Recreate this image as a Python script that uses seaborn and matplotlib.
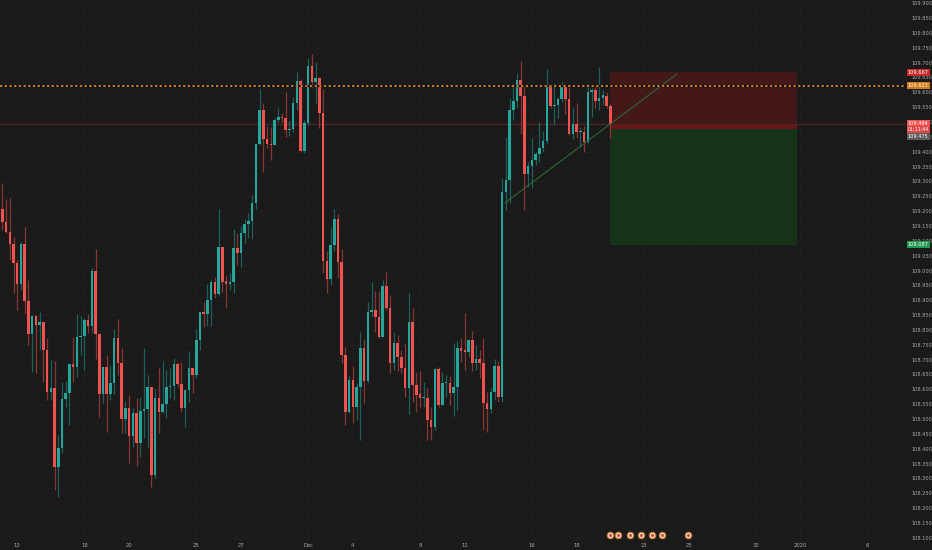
import numpy as np
import pandas as pd
import matplotlib
matplotlib.use('Agg')
import matplotlib.pyplot as plt
import matplotlib.transforms as mtransforms
import seaborn as sns

# ---------------------------------------------------------------
# USDJPY 4H candles
opens = [109.207, 109.164, 109.130, 109.089, 109.025, 108.955, 109.089, 108.898, 108.786, 108.847,
         108.817, 108.827, 108.733, 108.591, 108.605, 108.339, 108.403, 108.568, 108.588, 108.685,
         108.675, 108.776, 108.778, 108.834, 108.813, 108.999, 108.786, 108.584, 108.675, 108.584,
         108.621, 108.773, 108.689, 108.500, 108.537, 108.443, 108.520, 108.419, 108.527, 108.534,
         108.608, 108.312, 108.571, 108.524, 108.551, 108.608, 108.611, 108.685, 108.618, 108.537,
         108.598, 108.672, 108.648, 108.766, 108.861, 108.854, 108.901, 108.962, 108.921, 109.079,
         108.965, 108.955, 108.962, 109.076, 109.059, 109.127, 109.157, 109.167, 109.228, 109.426,
         109.541, 109.443, 109.426, 109.423, 109.507, 109.517, 109.514, 109.473, 109.477, 109.564,
         109.638, 109.403, 109.497, 109.689, 109.635, 109.648, 109.530, 109.032, 108.972, 109.086,
         109.174, 109.029, 108.716, 108.524, 108.632, 108.541, 108.608, 108.739, 108.628, 108.861,
         108.867, 108.844, 108.776, 108.948, 108.874, 108.689, 108.756, 108.709, 108.672, 108.605,
         108.827, 108.615, 108.584, 108.571, 108.571, 108.497, 108.473, 108.669, 108.547, 108.621,
         108.621, 108.588, 108.608, 108.739, 108.733, 108.726, 108.766, 108.689, 108.702, 108.689,
         108.554, 108.534, 108.591, 108.679, 108.574, 109.265, 109.305, 109.541, 109.571, 109.642,
         109.588, 109.325, 109.352, 109.372, 109.393, 109.413, 109.436, 109.618, 109.554, 109.557,
         109.578, 109.618, 109.578, 109.460, 109.493, 109.467, 109.467, 109.433, 109.601, 109.608,
         109.571, 109.581, 109.588, 109.554]
highs = [109.295, 109.241, 109.244, 109.113, 109.036, 109.096, 109.147, 108.968, 108.850, 108.850,
         108.861, 108.827, 108.773, 108.699, 108.696, 108.446, 108.625, 108.628, 108.689, 108.776,
         108.854, 108.847, 108.840, 108.854, 109.009, 109.073, 108.786, 108.675, 108.716, 108.682,
         108.803, 108.837, 108.739, 108.561, 108.581, 108.537, 108.571, 108.574, 108.739, 108.648,
         108.608, 108.601, 108.672, 108.696, 108.665, 108.672, 108.706, 108.689, 108.692, 108.598,
         108.729, 108.672, 108.803, 108.861, 108.894, 108.955, 108.968, 108.978, 109.207, 109.079,
         108.985, 108.992, 109.140, 109.127, 109.150, 109.174, 109.194, 109.254, 109.426, 109.611,
         109.564, 109.487, 109.483, 109.514, 109.547, 109.530, 109.601, 109.504, 109.584, 109.669,
         109.645, 109.507, 109.716, 109.729, 109.702, 109.652, 109.611, 109.066, 109.147, 109.207,
         109.190, 109.073, 108.743, 108.645, 108.679, 108.621, 108.793, 108.770, 108.894, 108.962,
         108.931, 108.931, 108.968, 108.995, 108.918, 108.793, 108.783, 108.733, 108.756, 108.924,
         108.874, 108.659, 108.662, 108.625, 108.605, 108.541, 108.672, 108.675, 108.659, 108.648,
         108.645, 108.756, 108.763, 108.773, 108.857, 108.770, 108.797, 108.749, 108.733, 108.773,
         108.591, 108.605, 108.702, 108.696, 109.312, 109.450, 109.581, 109.628, 109.665, 109.706,
         109.621, 109.366, 109.446, 109.399, 109.500, 109.470, 109.679, 109.628, 109.628, 109.584,
         109.635, 109.618, 109.618, 109.547, 109.564, 109.483, 109.487, 109.628, 109.615, 109.621,
         109.685, 109.608, 109.601, 109.561]
lows = [109.137, 109.127, 109.036, 108.924, 108.867, 108.935, 108.857, 108.749, 108.659, 108.655,
        108.733, 108.625, 108.564, 108.564, 108.261, 108.238, 108.386, 108.541, 108.480, 108.625,
        108.642, 108.716, 108.665, 108.790, 108.790, 108.702, 108.507, 108.554, 108.456, 108.564,
        108.584, 108.648, 108.453, 108.453, 108.352, 108.406, 108.342, 108.372, 108.436, 108.406,
        108.271, 108.302, 108.453, 108.520, 108.504, 108.571, 108.564, 108.608, 108.524, 108.473,
        108.557, 108.588, 108.638, 108.733, 108.810, 108.813, 108.813, 108.908, 108.914, 108.928,
        108.874, 108.935, 108.924, 109.019, 109.012, 109.093, 109.110, 109.106, 109.207, 109.423,
        109.332, 109.413, 109.372, 109.423, 109.500, 109.500, 109.450, 109.453, 109.467, 109.541,
        109.400, 109.396, 109.490, 109.615, 109.564, 109.480, 108.992, 108.924, 108.951, 109.066,
        108.975, 108.689, 108.480, 108.520, 108.487, 108.497, 108.430, 108.554, 108.621, 108.844,
        108.793, 108.773, 108.776, 108.867, 108.655, 108.665, 108.662, 108.655, 108.574, 108.517,
        108.557, 108.524, 108.541, 108.541, 108.430, 108.430, 108.463, 108.541, 108.547, 108.574,
        108.547, 108.510, 108.530, 108.692, 108.665, 108.709, 108.662, 108.665, 108.638, 108.463,
        108.456, 108.520, 108.564, 108.557, 108.557, 109.204, 109.228, 109.507, 109.547, 109.460,
        109.204, 109.281, 109.278, 109.355, 109.366, 109.399, 109.426, 109.547, 109.490, 109.514,
        109.568, 109.527, 109.456, 109.443, 109.450, 109.416, 109.399, 109.426, 109.517, 109.547,
        109.541, 109.557, 109.547, 109.446]
closes = [109.164, 109.130, 109.089, 109.025, 108.955, 109.089, 108.898, 108.786, 108.847, 108.817,
          108.827, 108.733, 108.591, 108.605, 108.339, 108.403, 108.568, 108.588, 108.685, 108.675,
          108.776, 108.780, 108.834, 108.813, 108.999, 108.786, 108.584, 108.675, 108.584, 108.621,
          108.773, 108.689, 108.500, 108.537, 108.443, 108.520, 108.419, 108.527, 108.534, 108.608,
          108.312, 108.571, 108.524, 108.551, 108.608, 108.611, 108.685, 108.618, 108.537, 108.598,
          108.672, 108.648, 108.766, 108.861, 108.854, 108.901, 108.962, 108.921, 109.079, 108.962,
          108.955, 108.962, 109.076, 109.059, 109.127, 109.157, 109.167, 109.228, 109.426, 109.541,
          109.443, 109.426, 109.423, 109.507, 109.517, 109.514, 109.473, 109.477, 109.564, 109.638,
          109.403, 109.497, 109.689, 109.635, 109.648, 109.530, 109.032, 108.972, 109.086, 109.174,
          109.029, 108.716, 108.524, 108.632, 108.541, 108.608, 108.739, 108.628, 108.861, 108.867,
          108.844, 108.776, 108.948, 108.874, 108.689, 108.756, 108.709, 108.672, 108.605, 108.827,
          108.615, 108.581, 108.571, 108.574, 108.497, 108.473, 108.669, 108.547, 108.621, 108.625,
          108.588, 108.608, 108.739, 108.729, 108.726, 108.766, 108.689, 108.702, 108.689, 108.554,
          108.534, 108.591, 108.679, 108.574, 109.265, 109.305, 109.541, 109.571, 109.642, 109.588,
          109.325, 109.352, 109.372, 109.393, 109.413, 109.436, 109.618, 109.554, 109.557, 109.578,
          109.618, 109.578, 109.460, 109.493, 109.467, 109.470, 109.433, 109.601, 109.608, 109.571,
          109.581, 109.591, 109.554, 109.494]

first_bar = '2019-11-12 08:00'
tick_dates = ['2019-11-13', '2019-11-18', '2019-11-20', '2019-11-25', '2019-11-27', '2019-12-02',
              '2019-12-04', '2019-12-09', '2019-12-11', '2019-12-16', '2019-12-18', '2019-12-23',
              '2019-12-25', '2019-12-30', '2020-01-01', '2020-01-06']
tick_labels = ['13', '18', '20', '25', '27', 'Dec', '4', '9', '11', '16', '18', '23', '25', '30', '2020', '6']

# short position tool + drawings
stop_price = 109.667
entry_price = 109.475
target_price = 109.087
alert_price = 109.623
countdown = '01:11:44'
pos_end_bar = 213
trend_bars = [134.8, 180.9]
trend_prices = [109.228, 109.662]
event_bars = [163.0, 165.2, 168.3, 171.2, 174.2, 176.9, 183.8]

# ---------------------------------------------------------------
BG = '#1a1a1a'
UP, DOWN = '#26a69a', '#ef5350'
UP_W, DOWN_W = '#1d5f59', '#8a3434'

sns.set_theme(style='dark', rc={'axes.facecolor': BG, 'figure.facecolor': BG})
plt.rcParams['font.family'] = ['DejaVu Sans']

# 4h bars on weekdays, 6 per day
days = pd.bdate_range('2019-11-12', '2020-01-10')
times = pd.DatetimeIndex([d + pd.Timedelta(hours=h) for d in days for h in range(0, 24, 4)])
times = times[times >= pd.Timestamp(first_bar)]
tick_pos = [int(np.argmax(times.normalize() == pd.Timestamp(t))) for t in tick_dates]

df = pd.DataFrame({'o': opens, 'h': highs, 'l': lows, 'c': closes})
df['x'] = np.arange(len(df))
df['up'] = df['c'] >= df['o']

fig = plt.figure(figsize=(9.32, 5.5), dpi=100)
ax = fig.add_axes([0, 9 / 550, 906 / 932, 541 / 550])
ax.set_facecolor(BG)

ax.set_xlim(-0.62, 242.3)
ax.set_ylim(108.089, 109.911)

yt = np.round(np.arange(108.10, 109.9001, 0.05), 3)
ax.set_yticks(yt)
ax.set_yticklabels([f'{v:.3f}' for v in yt])
ax.set_xticks(tick_pos)
ax.set_xticklabels(tick_labels)
ax.yaxis.tick_right()
ax.tick_params(axis='y', length=0, pad=3.6, labelsize=3.6, labelcolor='#a5a8b0')
ax.tick_params(axis='x', length=0, pad=1.2, labelsize=3.8, labelcolor='#a5a8b0')
ax.grid(True, color='#1f1f1f', lw=0.6)
for s in ax.spines.values():
    s.set_visible(False)

# position box (short)
x0, x1 = df['x'].iloc[-1], pos_end_bar
last = closes[-1]
ax.fill_between([x0, x1], entry_price, stop_price, color='#431818', lw=0, zorder=1)
ax.fill_between([x0, x1], entry_price, last, color='#6a1515', lw=0, zorder=1.1)
ax.fill_between([x0, x1], target_price, entry_price, color='#163218', lw=0, zorder=1)

# horizontal lines
ax.axhline(last, color='#4a2424', lw=1.0, zorder=1.5)
ax.axhline(alert_price, color='#0c0c0c', lw=1.6, zorder=4)
ax.axhline(alert_price, color='#d4841c', lw=1.3, ls=(0, (1.3, 1.3)), zorder=4.1)

# candles
for up, col, wcol in [(True, UP, UP_W), (False, DOWN, DOWN_W)]:
    d = df[df['up'] == up]
    ax.vlines(d['x'], d['l'], d['h'], color=wcol, lw=0.9, zorder=2)
    body = (d['c'] - d['o']).abs().clip(lower=0.0035)
    ax.bar(d['x'], body, bottom=d[['o', 'c']].min(axis=1), width=0.68, color=col, lw=0, zorder=3)

# trend line
sns.lineplot(x=trend_bars, y=trend_prices, ax=ax, color='#2e6d38', lw=0.8, alpha=0.9, zorder=3.5)

# event markers at the bottom
tr_ev = mtransforms.blended_transform_factory(ax.transData, ax.transAxes)
ax.scatter(event_bars, [0.011] * len(event_bars), transform=tr_ev, s=22, color='#e9e0d8',
           edgecolor='#c8741c', linewidth=0.8, zorder=6, clip_on=False)
ax.scatter(event_bars, [0.011] * len(event_bars), transform=tr_ev, s=5, color='#d84a3a',
           linewidth=0, zorder=6.1, clip_on=False)

# price tags on the right scale
tr = mtransforms.blended_transform_factory(ax.transAxes, ax.transData)


def tag(price, text, fc, dy=0, tc='white', size=3.6):
    t = mtransforms.offset_copy(tr, fig=fig, x=2, y=dy, units='dots')
    ax.text(1.0, price, text, transform=t, ha='left', va='center', fontsize=size, color=tc,
            zorder=10, clip_on=False,
            bbox=dict(boxstyle='square,pad=0.2', fc=fc, ec='none'))


tag(stop_price, f'{stop_price:.3f}', '#c62828')
tag(alert_price, f'{alert_price:.3f}', '#d07c1a')
tag(last, f'{last:.3f}', '#ef5350', dy=0.5)
tag(last, countdown, '#e04848', dy=-5.8, size=3.4)
tag(entry_price, f'{entry_price:.3f}', '#5a5a5a', dy=-7.5)
tag(target_price, f'{target_price:.3f}', '#1f9950')

fig.savefig('out.png', dpi=100, facecolor=BG)
